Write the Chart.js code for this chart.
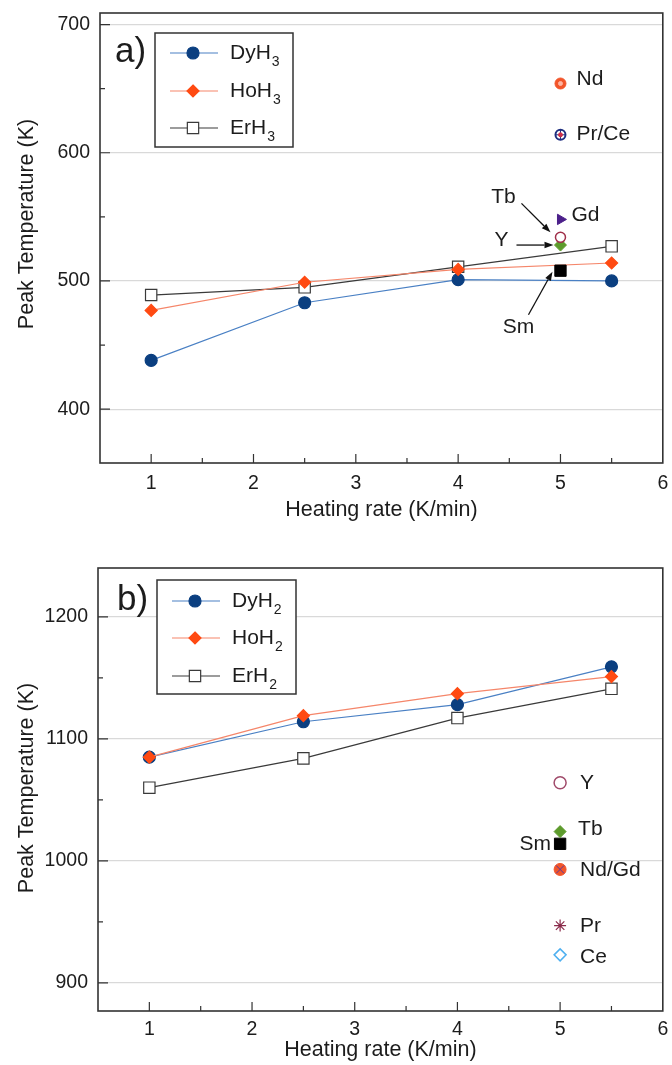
<!DOCTYPE html>
<html>
<head>
<meta charset="utf-8">
<script src="https://cdn.jsdelivr.net/npm/chart.js@4/dist/chart.umd.min.js"></script>
<style>
  html, body { margin: 0; padding: 0; background: #fff; }
  #wrap { position: relative; width: 672px; height: 1065px; }
  canvas { position: absolute; left: 0; }
  #chartA { top: 0; }
  #chartB { top: 530px; }
</style>
</head>
<body>
<div id="wrap">
  <canvas id="chartA" width="672" height="530"></canvas>
  <canvas id="chartB" width="672" height="535"></canvas>
</div>
<script>
// shared x values
const rates = [1, 2.5, 4, 5.5];
const xTicks = [1, 2, 3, 4, 5, 6];
const singleRate = 5;

// panel a) trihydrides
const dyH3 = [438, 483, 501, 500];
const hoH3 = [477, 499, 509, 514];
const erH3 = [489, 495, 511, 527];
const triNames = ['Nd', 'Pr/Ce', 'Gd', 'Tb', 'Y', 'Sm'];
const triPeaks = [654, 614, 548, 534, 528, 508];
const yTicksA = [400, 500, 600, 700];

// panel b) dihydrides
const dyH2 = [1085, 1114, 1128, 1159];
const hoH2 = [1085, 1119, 1137, 1151];
const erH2 = [1060, 1084, 1117, 1141];
const diNames = ['Y', 'Tb', 'Sm', 'Nd/Gd', 'Pr', 'Ce'];
const diPeaks = [1064, 1024, 1014, 993, 947, 923];
const yTicksB = [900, 1000, 1100, 1200];

const FONT = "'Liberation Sans', Arial, sans-serif";
const INK = '#1c1c1c';

const seriesStyle = {
    Dy: { line: '#4a80c4', fill: '#0b3f80', edge: '#0b3f80', shape: 'circle', r: 6 },
    Ho: { line: '#f5866a', fill: '#ff4a12', edge: '#ff4a12', shape: 'rectRot', r: 6 },
    Er: { line: '#3a3a3a', fill: '#ffffff', edge: '#3a3a3a', shape: 'rect', r: 8 }
};

const triMarkers = {
    'Nd': [{ shape: 'circle', r: 5.5, fill: '#f2552a', edge: '#f2552a' }, { shape: 'circle', r: 2, fill: '#ffb4a0', edge: '#ffb4a0' }],
    'Pr/Ce': [{ shape: 'circle', r: 5, fill: '#ffffff', edge: '#1f2f80', bw: 2 }, { shape: 'cross', r: 5, edge: '#1f2f80', bw: 1 }, { shape: 'circle', r: 2, fill: '#d0304a', edge: '#d0304a' }],
    'Gd': [{ shape: 'triangle', r: 6, fill: '#4b1f8a', edge: '#4b1f8a', rot: 90 }],
    'Tb': [{ shape: 'circle', r: 5, fill: '#ffffff', edge: '#a0304a', bw: 1.5 }],
    'Y': [{ shape: 'rectRot', r: 6, fill: '#5d9b2c', edge: '#5d9b2c' }],
    'Sm': [{ shape: 'rect', r: 8, fill: '#000000', edge: '#000000' }]
};
const triPlace = {
    'Nd': { dx: 16, dy: -4, align: 'left' },
    'Pr/Ce': { dx: 16, dy: -1, align: 'left' },
    'Gd': { dx: 11, dy: -4, align: 'left' },
    'Tb': { dx: -57, dy: -40, align: 'center', arrow: [-39, -34, -10, -5] },
    'Y': { dx: -59, dy: -5, align: 'center', arrow: [-44, 0, -7, 0] },
    'Sm': { dx: -42, dy: 57, align: 'center', arrow: [-32, 44, -8, 1] }
};

const diMarkers = {
    'Y': [{ shape: 'circle', r: 6, fill: '#ffffff', edge: '#a04a6a', bw: 1.5 }],
    'Tb': [{ shape: 'rectRot', r: 6, fill: '#5d9b2c', edge: '#5d9b2c' }],
    'Sm': [{ shape: 'rect', r: 8, fill: '#000000', edge: '#000000' }],
    'Nd/Gd': [{ shape: 'circle', r: 6, fill: '#f2552a', edge: '#f2552a' }, { shape: 'crossRot', r: 5.5, edge: '#5a3aa0', bw: 1 }],
    'Pr': [{ shape: 'star', r: 6, edge: '#8a2a4a', bw: 1.2 }],
    'Ce': [{ shape: 'rectRot', r: 6, fill: '#ffffff', edge: '#4fb0f0', bw: 1.5 }]
};
const diPlace = {
    'Y': { dx: 20, dy: 0, align: 'left' },
    'Tb': { dx: 18, dy: -2, align: 'left' },
    'Sm': { dx: -9, dy: 0, align: 'right' },
    'Nd/Gd': { dx: 20, dy: 1, align: 'left' },
    'Pr': { dx: 20, dy: 1, align: 'left' },
    'Ce': { dx: 20, dy: 2, align: 'left' }
};

function seriesDataset(label, ys, st, order) {
    return {
        label: label,
        data: rates.map((x, i) => ({ x: x, y: ys[i] })),
        showLine: true,
        borderColor: st.line,
        borderWidth: 1.2,
        pointStyle: st.shape,
        pointRadius: st.r,
        pointBackgroundColor: st.fill,
        pointBorderColor: st.edge,
        pointBorderWidth: 1.2,
        order: order
    };
}

function singleDatasets(names, peaks, markers) {
    const out = [];
    names.forEach((name, i) => {
        markers[name].forEach((layer, k) => {
            out.push({
                label: name,
                data: [{ x: singleRate, y: peaks[i] }],
                showLine: false,
                pointStyle: layer.shape,
                pointRadius: layer.r,
                pointRotation: layer.rot || 0,
                pointBackgroundColor: layer.fill || 'rgba(0,0,0,0)',
                pointBorderColor: layer.edge,
                pointBorderWidth: layer.bw || 1,
                order: -k
            });
        });
    });
    return out;
}

function drawArrow(ctx, x1, y1, x2, y2) {
    const ang = Math.atan2(y2 - y1, x2 - x1);
    const head = 9, half = 3.2;
    const bx = x2 - head * Math.cos(ang), by = y2 - head * Math.sin(ang);
    ctx.strokeStyle = '#111';
    ctx.fillStyle = '#111';
    ctx.lineWidth = 1.3;
    ctx.beginPath();
    ctx.moveTo(x1, y1);
    ctx.lineTo(bx, by);
    ctx.stroke();
    ctx.beginPath();
    ctx.moveTo(x2, y2);
    ctx.lineTo(bx - half * Math.sin(ang), by + half * Math.cos(ang));
    ctx.lineTo(bx + half * Math.sin(ang), by - half * Math.cos(ang));
    ctx.closePath();
    ctx.fill();
}

function drawMarker(ctx, st, x, y) {
    ctx.fillStyle = st.fill;
    ctx.strokeStyle = st.edge;
    ctx.lineWidth = 1.2;
    ctx.beginPath();
    if (st.shape === 'circle') {
        ctx.arc(x, y, st.r, 0, Math.PI * 2);
    } else if (st.shape === 'rectRot') {
        ctx.moveTo(x, y - st.r); ctx.lineTo(x + st.r, y); ctx.lineTo(x, y + st.r); ctx.lineTo(x - st.r, y);
        ctx.closePath();
    } else {
        const s = st.r * Math.SQRT1_2;
        ctx.rect(x - s, y - s, 2 * s, 2 * s);
    }
    ctx.fill();
    ctx.stroke();
}

// frame round the plot area plus inward ticks
function framePlugin(yMinorStep) {
    return {
        id: 'frame',
        beforeDatasetsDraw(chart) {
            const { ctx, chartArea: a, scales: { x, y } } = chart;
            ctx.save();
            ctx.strokeStyle = '#333';
            ctx.lineWidth = 1.2;
            ctx.beginPath();
            for (let v = 1; v < x.max; v += 0.5) {
                const px = x.getPixelForValue(v);
                const len = Number.isInteger(v) ? 9 : 5;
                ctx.moveTo(px, a.bottom);
                ctx.lineTo(px, a.bottom - len);
            }
            const start = Math.ceil(y.min / yMinorStep) * yMinorStep;
            for (let v = start; v <= y.max; v += yMinorStep) {
                const py = y.getPixelForValue(v);
                const len = v % 100 === 0 ? 10 : 5;
                ctx.moveTo(a.left, py);
                ctx.lineTo(a.left + len, py);
            }
            ctx.stroke();
            ctx.lineWidth = 1.6;
            ctx.strokeRect(a.left, a.top, a.right - a.left, a.bottom - a.top);
            ctx.restore();
        }
    };
}

function labelPlugin(names, peaks, place) {
    return {
        id: 'elementLabels',
        afterDatasetsDraw(chart) {
            const { ctx, scales: { x, y } } = chart;
            ctx.save();
            names.forEach((name, i) => {
                const px = x.getPixelForValue(singleRate);
                const py = y.getPixelForValue(peaks[i]);
                const l = place[name];
                ctx.font = '21px ' + FONT;
                ctx.fillStyle = INK;
                ctx.textBaseline = 'middle';
                ctx.textAlign = l.align;
                ctx.fillText(name, px + l.dx, py + l.dy);
                if (l.arrow) {
                    drawArrow(ctx, px + l.arrow[0], py + l.arrow[1], px + l.arrow[2], py + l.arrow[3]);
                }
            });
            ctx.restore();
        }
    };
}

function yTitlePlugin(centerY) {
    return {
        id: 'yTitle',
        afterDraw(chart) {
            const ctx = chart.ctx;
            ctx.save();
            ctx.translate(27, centerY);
            ctx.rotate(-Math.PI / 2);
            ctx.font = '21.5px ' + FONT;
            ctx.fillStyle = INK;
            ctx.textAlign = 'center';
            ctx.textBaseline = 'middle';
            ctx.fillText('Peak Temperature (K)', 0, 0);
            ctx.restore();
        }
    };
}

function legendPlugin(box, rowY, sub, letter, letterPos) {
    const entries = [['DyH', seriesStyle.Dy], ['HoH', seriesStyle.Ho], ['ErH', seriesStyle.Er]];
    return {
        id: 'boxLegend',
        afterDraw(chart) {
            const ctx = chart.ctx;
            ctx.save();
            ctx.fillStyle = '#fff';
            ctx.fillRect(box.x, box.y, box.w, box.h);
            ctx.strokeStyle = '#333';
            ctx.lineWidth = 1.5;
            ctx.strokeRect(box.x, box.y, box.w, box.h);
            entries.forEach(([name, st], i) => {
                const cy = rowY[i];
                ctx.strokeStyle = st.line;
                ctx.lineWidth = 1.2;
                ctx.beginPath();
                ctx.moveTo(box.x + 15, cy);
                ctx.lineTo(box.x + 63, cy);
                ctx.stroke();
                drawMarker(ctx, st, box.x + 38, cy);
                ctx.fillStyle = INK;
                ctx.textAlign = 'left';
                ctx.textBaseline = 'middle';
                ctx.font = '21px ' + FONT;
                ctx.fillText(name, box.x + 75, cy);
                const w = ctx.measureText(name).width;
                ctx.font = '14px ' + FONT;
                ctx.fillText(sub, box.x + 75 + w + 1, cy + 9);
            });
            ctx.font = '35px ' + FONT;
            ctx.fillStyle = INK;
            ctx.textBaseline = 'middle';
            ctx.fillText(letter, letterPos.x, letterPos.y);
            ctx.restore();
        }
    };
}

function makeOptions(cfg) {
    return {
        responsive: false,
        animation: false,
        layout: { padding: { top: cfg.padTop, right: 8, left: 0, bottom: 0 } },
        plugins: { legend: { display: false }, tooltip: { enabled: false } },
        scales: {
            x: {
                type: 'linear',
                min: 0.5,
                max: 6,
                afterBuildTicks: s => { s.ticks = xTicks.map(v => ({ value: v })); },
                afterFit: s => { s.height = cfg.xHeight; s.paddingLeft = 0; s.paddingRight = 0; },
                grid: { display: false, drawTicks: false },
                border: { display: false },
                ticks: { font: { family: FONT, size: 19.5 }, color: INK, padding: cfg.xPad, maxRotation: 0, callback: v => String(v) },
                title: {
                    display: true,
                    text: 'Heating rate (K/min)',
                    font: { family: FONT, size: 21.5 },
                    color: INK,
                    padding: { top: 0, bottom: cfg.titleBottom }
                }
            },
            y: {
                type: 'linear',
                min: cfg.yMin,
                max: cfg.yMax,
                afterBuildTicks: s => { s.ticks = cfg.yTicks.map(v => ({ value: v })); },
                afterFit: s => { s.width = cfg.yWidth; s.paddingTop = 0; s.paddingBottom = 0; },
                grid: { color: '#d9d9d9', lineWidth: 1.2, drawTicks: false },
                border: { display: false },
                ticks: { font: { family: FONT, size: 19.5 }, color: INK, padding: cfg.yPad, callback: v => String(v) },
                title: { display: false }
            }
        }
    };
}

new Chart(document.getElementById('chartA'), {
    type: 'scatter',
    data: {
        datasets: [
            seriesDataset('HoH₃', hoH3, seriesStyle.Ho, 3),
            seriesDataset('DyH₃', dyH3, seriesStyle.Dy, 4),
            seriesDataset('ErH₃', erH3, seriesStyle.Er, 5)
        ].concat(singleDatasets(triNames, triPeaks, triMarkers))
    },
    options: makeOptions({ padTop: 13, xHeight: 67, yWidth: 100, yMin: 358, yMax: 709, yTicks: yTicksA, xPad: 9, yPad: 10, titleBottom: 7 }),
    plugins: [
        framePlugin(50),
        labelPlugin(triNames, triPeaks, triPlace),
        yTitlePlugin(224),
        legendPlugin({ x: 155, y: 33, w: 138, h: 114 }, [53, 91, 128], '3', 'a)', { x: 115, y: 52 })
    ]
});

new Chart(document.getElementById('chartB'), {
    type: 'scatter',
    data: {
        datasets: [
            seriesDataset('HoH₂', hoH2, seriesStyle.Ho, 3),
            seriesDataset('DyH₂', dyH2, seriesStyle.Dy, 4),
            seriesDataset('ErH₂', erH2, seriesStyle.Er, 5)
        ].concat(singleDatasets(diNames, diPeaks, diMarkers))
    },
    options: makeOptions({ padTop: 38, xHeight: 54, yWidth: 98, yMin: 877, yMax: 1240, yTicks: yTicksB, xPad: 7, yPad: 10, titleBottom: 2 }),
    plugins: [
        framePlugin(50),
        labelPlugin(diNames, diPeaks, diPlace),
        yTitlePlugin(258),
        legendPlugin({ x: 157, y: 50, w: 139, h: 114 }, [71, 108, 146], '2', 'b)', { x: 117, y: 70 })
    ]
});
</script>
</body>
</html>
